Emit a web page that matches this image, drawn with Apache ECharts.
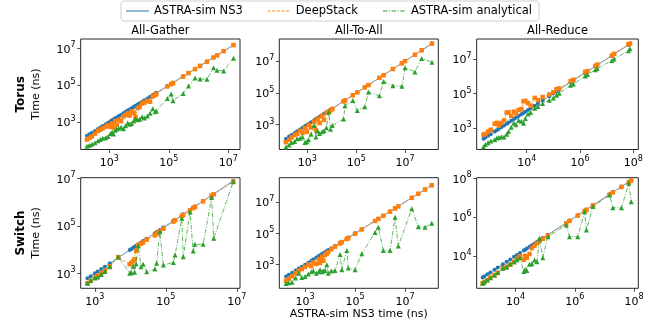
<!DOCTYPE html>
<html><head><meta charset="utf-8">
<script src="https://cdn.jsdelivr.net/npm/echarts@6/dist/echarts.min.js"></script>
<style>html,body{margin:0;padding:0;background:#fff}#c{width:667px;height:325px}</style>
</head><body><div id="c"></div>
<script>
// ---------- Data (times in ns) ----------
const seriesNames = ['ASTRA-sim NS3', 'DeepStack', 'ASTRA-sim analytical'];
const columnTitles = ['All-Gather', 'All-To-All', 'All-Reduce'];
const rowTitles = ['Torus', 'Switch'];
const yAxisTitle = 'Time (ns)';
const xAxisTitle = 'ASTRA-sim NS3 time (ns)';

// Torus / All-Gather
const torusAllGatherNS3 = [1.78e2,2.14e2,2.63e2,3.31e2,4.17e2,5.01e2,6.03e2,7.59e2,9.12e2,1.10e3,1.26e3,1.38e3,1.58e3,1.78e3,2.09e3,2.51e3,3.02e3,3.55e3,4.17e3,4.79e3,5.62e3,6.61e3,7.59e3,8.91e3,1.05e4,1.26e4,1.51e4,1.91e4,2.34e4,2.88e4,3.47e4,3.80e4,8.91e4,1.20e5,1.38e5,3.02e5,4.57e5,7.59e5,1.12e6,1.91e6,3.16e6,4.17e6,6.92e6,1.48e7];
const torusAllGatherDeepStack = [1.12e2,1.38e2,1.66e2,2.34e2,3.31e2,3.80e2,4.57e2,5.62e2,6.61e2,5.50e2,8.32e2,5.01e2,1.12e3,7.08e2,1.32e3,1.12e3,2.00e3,2.40e3,2.95e3,2.24e3,3.80e3,3.16e3,1.91e3,5.62e3,6.61e3,1.00e4,1.12e4,1.41e4,1.26e4,2.40e4,2.88e4,3.31e4,8.51e4,1.12e5,1.26e5,2.88e5,4.47e5,7.41e5,1.10e6,1.86e6,3.16e6,4.07e6,6.92e6,1.48e7];
const torusAllGatherAnalytical = [4.79e1,5.50e1,6.31e1,7.59e1,9.55e1,1.12e2,1.32e2,1.41e2,1.66e2,2.40e2,2.82e2,2.24e2,3.55e2,4.17e2,4.57e2,5.25e2,4.37e2,6.31e2,8.91e2,7.59e2,8.32e2,1.12e3,1.51e3,1.32e3,1.41e3,1.91e3,1.66e3,2.09e3,3.02e3,5.25e3,3.55e3,3.98e3,1.86e4,3.31e4,1.41e4,3.55e4,8.91e4,2.40e5,2.14e5,2.09e5,8.71e5,6.31e5,5.89e5,2.82e6];

// Torus / All-To-All
const torusAllToAllNS3 = [1.32e2,1.78e2,2.24e2,3.02e2,3.80e2,5.01e2,6.31e2,7.94e2,9.55e2,1.12e3,1.41e3,1.91e3,2.24e3,2.63e3,3.16e3,3.98e3,4.79e3,6.03e3,7.59e3,8.91e3,1.05e4,3.02e4,3.47e4,7.24e4,1.10e5,2.24e5,3.16e5,8.91e5,1.32e6,3.16e6,7.41e6,1.00e7,2.51e7,4.79e7,1.26e8];
const torusAllToAllDeepStack = [7.94e1,1.12e2,1.58e2,2.24e2,2.63e2,4.17e2,3.02e2,6.03e2,3.55e2,9.55e2,6.61e2,1.58e3,4.47e2,2.40e3,1.26e3,3.55e3,2.00e3,5.50e3,6.31e3,7.94e3,9.55e3,2.88e4,3.31e4,7.08e4,1.07e5,2.19e5,3.09e5,8.91e5,1.29e6,3.16e6,7.24e6,1.00e7,2.51e7,4.79e7,1.26e8];
const torusAllToAllAnalytical = [3.98e1,5.25e1,7.59e1,8.91e1,1.32e2,1.41e2,1.66e2,7.59e1,8.32e1,1.12e2,2.51e2,8.91e2,1.66e2,3.98e2,2.82e2,3.55e2,4.17e2,6.31e2,6.31e3,5.25e2,8.91e2,2.24e3,1.58e4,3.31e4,7.94e3,1.32e4,1.12e5,6.61e4,5.25e5,2.82e5,2.63e5,3.80e6,2.09e6,1.48e7,8.32e6];

// Torus / All-Reduce
const torusAllReduceNS3 = [2.40e2,2.82e2,3.55e2,4.47e2,6.31e2,7.59e2,8.91e2,1.12e3,1.41e3,1.78e3,2.09e3,2.63e3,3.31e3,3.98e3,5.01e3,6.31e3,7.59e3,8.91e3,1.12e4,1.41e4,2.00e4,2.63e4,3.98e4,7.08e4,1.00e5,1.32e5,1.66e5,4.47e5,5.62e5,1.58e6,1.91e6,3.80e6,4.47e6,1.58e7,1.91e7,6.61e7,7.59e7];
const torusAllReduceDeepStack = [4.17e2,4.57e2,6.31e2,7.94e2,1.78e3,2.00e3,1.41e3,2.00e3,2.82e3,7.94e3,8.32e3,5.01e3,8.91e3,7.08e3,1.12e4,1.26e4,3.55e4,3.80e4,2.82e4,2.00e4,5.62e4,4.17e4,6.31e4,8.91e4,1.20e5,1.78e5,2.00e5,5.25e5,6.31e5,1.78e6,2.00e6,3.98e6,4.79e6,1.58e7,2.00e7,7.08e7,7.94e7];
const torusAllReduceAnalytical = [8.32e1,1.12e2,1.41e2,1.78e2,2.09e2,2.63e2,2.82e2,3.16e2,3.02e2,4.47e2,6.31e2,1.12e3,2.00e3,1.58e3,2.82e3,2.51e3,1.91e3,3.55e3,6.61e3,7.94e3,1.41e4,1.78e4,2.63e4,4.17e4,5.62e4,7.94e4,1.05e5,3.02e5,3.55e5,1.05e6,1.26e6,2.40e6,2.82e6,8.32e6,1.00e7,3.02e7,3.98e7];

// Switch / All-Gather
const switchAllGatherNS3 = [6.17e2,7.59e2,1.00e3,1.20e3,1.51e3,1.91e3,2.63e3,4.57e3,9.55e3,1.07e4,1.20e4,1.32e4,1.45e4,1.66e4,2.00e4,2.29e4,2.88e4,4.90e4,5.50e4,6.76e4,8.51e4,1.62e5,1.82e5,2.82e5,3.09e5,4.79e5,5.89e5,6.61e5,1.12e6,1.95e6,2.24e6,7.94e6];
const switchAllGatherDeepStack = [3.80e2,4.79e2,6.61e2,7.94e2,1.00e3,1.32e3,2.00e3,4.79e3,2.40e3,2.82e3,3.31e3,3.98e3,8.91e3,1.51e4,1.78e4,2.00e4,2.63e4,3.98e4,4.79e4,6.03e4,7.59e4,1.51e5,1.74e5,2.63e5,2.88e5,4.57e5,5.62e5,6.31e5,1.07e6,1.86e6,2.14e6,7.24e6];
const switchAllGatherAnalytical = [3.80e2,5.01e2,6.31e2,7.08e2,8.91e2,1.20e3,1.91e3,5.01e3,1.00e3,1.05e3,2.00e3,1.12e3,2.51e3,1.41e4,1.91e3,2.40e3,1.17e3,1.51e3,2.63e3,5.62e4,2.24e3,2.88e3,5.89e3,2.09e5,5.01e3,3.80e5,8.71e3,1.66e4,1.66e4,1.58e6,3.02e4,7.24e6];

// Switch / All-To-All
const switchAllToAllNS3 = [1.74e2,2.24e2,3.02e2,4.17e2,5.62e2,7.41e2,1.00e3,1.35e3,1.78e3,2.14e3,2.82e3,3.55e3,3.98e3,4.79e3,5.37e3,6.31e3,7.41e3,8.51e3,1.12e4,1.58e4,2.51e4,2.95e4,4.68e4,5.37e4,1.00e5,1.86e5,6.31e5,8.51e5,1.35e6,2.51e6,3.98e6,5.37e6,1.86e7,3.39e7,6.31e7,1.17e8];
const switchAllToAllDeepStack = [9.33e1,1.26e2,1.78e2,2.82e2,4.17e2,5.25e2,7.08e2,1.00e3,7.94e2,1.41e3,1.12e3,2.24e3,1.26e3,3.16e3,1.78e3,4.17e3,5.01e3,6.31e3,9.55e3,1.41e4,2.24e4,2.75e4,4.37e4,5.01e4,9.55e4,1.78e5,6.17e5,8.32e5,1.32e6,2.45e6,3.89e6,5.25e6,1.86e7,3.39e7,6.31e7,1.17e8];
const switchAllToAllAnalytical = [6.31e1,7.08e1,7.59e1,1.41e2,2.88e2,1.51e2,1.78e2,2.51e2,3.55e2,4.07e2,2.82e2,3.55e2,4.79e2,3.55e2,3.98e2,4.17e2,1.00e3,2.88e2,3.98e2,4.17e2,4.47e3,4.79e2,8.13e3,6.17e2,4.79e2,5.01e3,1.15e5,2.45e5,8.13e3,8.13e3,1.07e6,1.55e4,3.72e6,2.69e5,2.45e5,4.47e5];

// Switch / All-Reduce
const switchAllReduceNS3 = [7.76e2,8.91e2,1.12e3,1.41e3,1.95e3,2.51e3,3.72e3,5.01e3,6.61e3,8.91e3,1.12e4,1.41e4,1.91e4,2.09e4,2.40e4,2.95e4,3.55e4,4.37e4,5.25e4,6.46e4,8.32e4,1.23e5,5.13e5,6.61e5,1.26e6,2.14e6,2.45e6,4.07e6,1.48e7,1.91e7,3.72e7,6.61e7,7.94e7];
const switchAllReduceDeepStack = [3.89e2,4.57e2,5.62e2,7.59e2,1.05e3,1.32e3,2.29e3,2.82e3,3.55e3,5.01e3,7.08e3,9.55e3,6.31e3,1.00e4,7.94e3,1.26e4,2.51e4,3.31e4,4.47e4,6.03e4,7.59e4,1.12e5,4.79e5,6.31e5,1.20e6,2.04e6,2.34e6,3.98e6,1.41e7,1.86e7,3.55e7,6.31e7,7.59e7];
const switchAllReduceAnalytical = [3.89e2,4.57e2,5.75e2,7.59e2,1.00e3,1.41e3,2.29e3,2.63e3,3.80e3,4.79e3,6.31e3,7.94e3,1.55e3,2.00e3,1.78e3,3.72e3,3.98e3,6.17e3,5.01e3,8.13e4,8.13e3,9.77e4,3.89e5,9.77e4,9.77e4,1.91e6,2.14e5,3.47e6,1.38e7,3.02e6,3.02e6,5.50e7,6.17e6];

// Tick label positions
const ticksOddDecades = [1e3, 1e5, 1e7];
const ticksEvenDecades = [1e4, 1e6, 1e8];

// ---------- Layout ----------
const FONT = 'DejaVu Sans';
const colors = ['#1f77b4', '#ff7f0e', '#2ca02c'];
const lineColors = ['rgba(31,119,180,0.75)', 'rgba(255,127,14,0.75)', 'rgba(44,160,44,0.75)'];
const legendLineColors = ['rgba(31,119,180,0.5)', 'rgba(255,127,14,0.5)', 'rgba(44,160,44,0.5)'];
const lineTypes = ['solid', [3, 1.6], [4.5, 1.6, 1, 1.6]];
const symbols = ['circle', 'rect', 'triangle'];
const symbolSizes = [4, 4.5, 5];

const colLeft = [80.7, 279.3, 476.7];
const colWidth = [159.3, 159.0, 161.6];
const rowTop = [39, 177.7];
const rowHeight = [110.5, 110.6];

const panels = [
  {ns3: torusAllGatherNS3, ds: torusAllGatherDeepStack, an: torusAllGatherAnalytical, xr: [1.10e2, 2.45e7], yr: [32.4, 3.16e7], xt: ticksOddDecades, yt: ticksOddDecades},
  {ns3: torusAllToAllNS3, ds: torusAllToAllDeepStack, an: torusAllToAllAnalytical, xr: [70.8, 2.29e8], yr: [27.5, 2.45e8], xt: ticksOddDecades, yt: ticksOddDecades},
  {ns3: torusAllReduceNS3, ds: torusAllReduceDeepStack, an: torusAllReduceAnalytical, xr: [1.33e2, 1.55e8], yr: [57.5, 1.45e8], xt: ticksEvenDecades, yt: ticksOddDecades},
  {ns3: switchAllGatherNS3, ds: switchAllGatherDeepStack, an: switchAllGatherAnalytical, xr: [398, 1.23e7], yr: [234, 1.07e7], xt: ticksOddDecades, yt: ticksOddDecades},
  {ns3: switchAllToAllNS3, ds: switchAllToAllDeepStack, an: switchAllToAllAnalytical, xr: [93.3, 2.14e8], yr: [30.9, 3.6e8], xt: ticksOddDecades, yt: ticksOddDecades},
  {ns3: switchAllReduceNS3, ds: switchAllReduceDeepStack, an: switchAllReduceAnalytical, xr: [490, 1.38e8], yr: [214, 1.07e8], xt: ticksEvenDecades, yt: ticksEvenDecades}
];

function powLabel(v) {
  const e = Math.round(Math.log10(v));
  return '{b|10}{s|' + e + '}';
}
const labelRich = {
  b: {fontFamily: FONT, fontSize: 11, color: '#000', lineHeight: 14, verticalAlign: 'bottom'},
  s: {fontFamily: FONT, fontSize: 8, color: '#000', lineHeight: 8, verticalAlign: 'top'}
};

const grids = [], xAxes = [], yAxes = [], series = [];

panels.forEach((p, i) => {
  const r = Math.floor(i / 3), c = i % 3;
  grids.push({left: colLeft[c], top: rowTop[r], width: colWidth[c], height: rowHeight[r],
    show: true, borderColor: '#262626', borderWidth: 1, backgroundColor: 'transparent', containLabel: false});
  const commonAxis = {
    gridIndex: i, type: 'log', logBase: 10,
    axisLine: {show: false},
    splitLine: {show: false},
    minorTick: {show: false},
    axisTick: {show: true, inside: false, length: 3.5, lineStyle: {color: '#262626', width: 0.8}},
  };
  const xa = Object.assign({}, commonAxis, {
    min: p.xr[0], max: p.xr[1],
    axisTick: Object.assign({}, commonAxis.axisTick, {customValues: p.xt}),
    axisLabel: {customValues: p.xt, formatter: powLabel, rich: labelRich, margin: 5, showMinLabel: true, showMaxLabel: true}
  });
  if (i === 4) {
    xa.name = xAxisTitle; xa.nameLocation = 'middle'; xa.nameGap = 14;
    xa.nameTextStyle = {fontFamily: FONT, fontSize: 11, color: '#000'};
  }
  xAxes.push(xa);
  const ya = Object.assign({}, commonAxis, {
    min: p.yr[0], max: p.yr[1],
    axisTick: Object.assign({}, commonAxis.axisTick, {customValues: p.yt}),
    axisLabel: {customValues: p.yt, formatter: powLabel, rich: labelRich, margin: 5, showMinLabel: true, showMaxLabel: true}
  });
  if (c === 0) {
    ya.name = '{t|' + rowTitles[r] + '}\n{n|' + yAxisTitle + '}';
    ya.nameLocation = 'middle'; ya.nameRotate = 90; ya.nameGap = 38;
    ya.nameTextStyle = {rich: {
      t: {fontFamily: FONT, fontSize: 12, fontWeight: 'bold', color: '#000', lineHeight: 15},
      n: {fontFamily: FONT, fontSize: 11, color: '#000', lineHeight: 14}
    }};
  }
  yAxes.push(ya);
});

panels.forEach((p, i) => {
  const ys = [p.ns3, p.ds, p.an];
  ys.forEach((yv, k) => {
    series.push({
      type: 'line', name: seriesNames[k], xAxisIndex: i, yAxisIndex: i,
      data: p.ns3.map((xv, j) => [xv, yv[j]]),
      symbol: symbols[k], symbolSize: symbolSizes[k], showAllSymbol: true,
      itemStyle: {color: colors[k]},
      lineStyle: {color: lineColors[k], width: 1, type: lineTypes[k]},
      emphasis: {disabled: true}, z: 2 + k
    });
  });
});

const colCenters = colLeft.map((l, c) => l + colWidth[c] / 2);
const titles = columnTitles.map((t, c) => ({
  text: t, left: colCenters[c], top: 25, textAlign: 'center', padding: 0,
  textStyle: {fontFamily: FONT, fontSize: 11.5, fontWeight: 'normal', color: '#000'}
}));

const chart = echarts.init(document.getElementById('c'), null, {renderer: 'canvas'});
chart.setOption({
  animation: false,
  backgroundColor: '#fff',
  title: titles,
  legend: {
    data: seriesNames.map((n, k) => ({name: n, lineStyle: {color: legendLineColors[k], width: 2, type: lineTypes[k]}})),
    top: 1, left: 121, orient: 'horizontal',
    itemWidth: 23, itemHeight: 10, itemGap: 24, padding: [4, 7, 4, 4],
    itemStyle: {opacity: 0},
    borderColor: '#d0d0d0', borderWidth: 1, borderRadius: 3,
    textStyle: {fontFamily: FONT, fontSize: 11.5, color: '#000'},
    selectedMode: false
  },
  grid: grids, xAxis: xAxes, yAxis: yAxes, series: series
});
</script></body></html>
